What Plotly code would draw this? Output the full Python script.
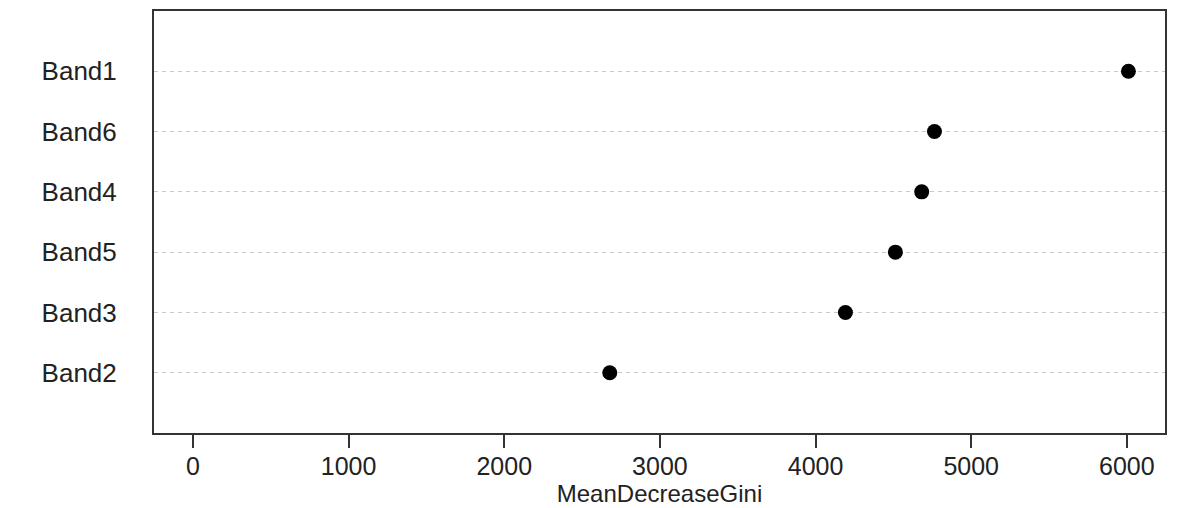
import plotly.graph_objects as go

bands = ["Band2", "Band3", "Band5", "Band4", "Band6", "Band1"]
gini = [2678, 4192, 4513, 4682, 4764, 6010]
x_ticks = [0, 1000, 2000, 3000, 4000, 5000, 6000]

FONT = "Liberation Sans, Arial, Helvetica, sans-serif"

fig = go.Figure()
fig.add_trace(go.Scatter(
    x=gini, y=bands, mode="markers",
    marker=dict(symbol="circle", size=15, color="black"),
    showlegend=False,
))

fig.update_layout(
    width=1177, height=508,
    margin=dict(l=154, r=12, t=11, b=75, autoexpand=False),
    paper_bgcolor="white", plot_bgcolor="white",
    font=dict(family=FONT, size=25, color="#222222"),
)
fig.update_xaxes(
    range=[-250, 6245], automargin=False,
    tickvals=x_ticks, ticktext=[str(v) for v in x_ticks],
    ticks="outside", ticklen=13, tickwidth=2, tickcolor="#333333",
    showgrid=False, zeroline=False,
    showline=True, linecolor="#333333", linewidth=2, mirror=True,
    ticklabelstandoff=-3,
    title=dict(text="MeanDecreaseGini", font=dict(size=24), standoff=4),
    tickfont=dict(size=25),
)
fig.update_yaxes(
    type="category", categoryorder="array", categoryarray=bands,
    range=[-1, 6], automargin=False,
    showgrid=True, gridcolor="#c8c8c8", gridwidth=1, griddash="4px,4px",
    zeroline=False, ticks="",
    showline=True, linecolor="#333333", linewidth=2, mirror=True,
    ticklabelstandoff=30,
    tickfont=dict(size=26),
)

fig.write_html(
    "out.html",
    config={"displayModeBar": False},
    post_script="document.body.style.margin='0';document.body.style.padding='0';",
)
